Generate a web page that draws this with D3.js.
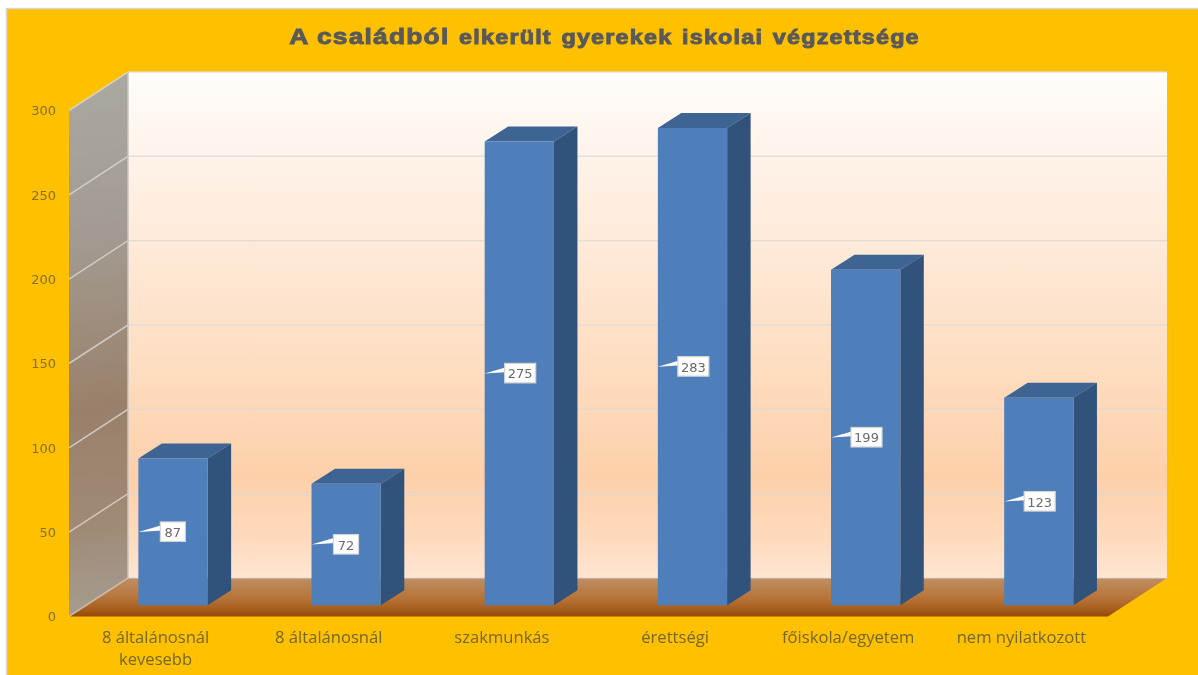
<!DOCTYPE html>
<html><head><meta charset="utf-8">
<script src="https://cdn.jsdelivr.net/npm/d3@7"></script>
<style>html,body{margin:0;padding:0;background:#fff}svg{display:block;filter:blur(0.35px)}</style>
</head><body><svg id="c" width="1198" height="675"></svg>
<script>
const categories = [["8 általánosnál","kevesebb"],["8 általánosnál"],["szakmunkás"],["érettségi"],["főiskola/egyetem"],["nem nyilatkozott"]];
const values = [87,72,275,283,199,123];
const yTicks = [0,50,100,150,200,250,300];

const svg = d3.select("#c");
const W = 1198, H = 675;
const x0 = 69, x1 = 1108, yBase = 616.5, yTop = 110.5;
const dx = 59, dy = -38.5;          // wall depth
const bdx = 23.5, bdy = -15;        // bar depth
const fdx = 17.4, fdy = -11.2;      // bar offset from the front edge of the floor
const x = d3.scaleBand().domain(d3.range(values.length)).range([x0,x1]).paddingInner(0.6).paddingOuter(0.3);
const band = d3.scaleBand().domain(d3.range(values.length)).range([x0,x1]);
const y = d3.scaleLinear().domain([0,300]).range([yBase,yTop]);
const hUnit = (yBase-yTop)/300;

const defs = svg.append("defs");
function grad(id,x1_,y1_,x2_,y2_,stops){
  const g = defs.append("linearGradient").attr("id",id).attr("gradientUnits","userSpaceOnUse")
    .attr("x1",x1_).attr("y1",y1_).attr("x2",x2_).attr("y2",y2_);
  stops.forEach(s=>g.append("stop").attr("offset",s[0]).attr("stop-color",s[1]));
}
grad("back",0,72,0,578,[[0,"#fffdfa"],[0.2,"#fef1e6"],[0.55,"#fedfc4"],[0.8,"#fdd0aa"],[0.92,"#fedabd"],[1,"#ffe5d2"]]);
grad("floor",0,578,0,616.5,[[0,"#bd8f64"],[0.5,"#b8753a"],[0.8,"#a85f1e"],[1,"#974705"]]);
grad("side",69,90,128,600,[[0,"#aaa7a1"],[0.3,"#a29a90"],[0.62,"#9a806a"],[0.85,"#a08a76"],[1,"#a59a8e"]]);

svg.append("rect").attr("x",6.5).attr("y",8.5).attr("width",W).attr("height",H)
  .attr("fill","#ffc000").attr("stroke","#d6d6d6").attr("stroke-width",1.5);

const poly = pts => pts.map(p=>p.join(",")).join(" ");
svg.append("polygon").attr("points",poly([[x0+dx,yTop+dy],[x1+dx,yTop+dy],[x1+dx,yBase+dy],[x0+dx,yBase+dy]])).attr("fill","url(#back)");
svg.append("polygon").attr("points",poly([[x0,yTop],[x0+dx,yTop+dy],[x0+dx,yBase+dy],[x0,yBase]])).attr("fill","url(#side)");
svg.append("polygon").attr("points",poly([[x0,yBase],[x0+dx,yBase+dy],[x1+dx,yBase+dy],[x1,yBase]])).attr("fill","url(#floor)");

// grid
const grid = svg.append("g").attr("fill","none").attr("stroke","#dcd9d4").attr("stroke-width",1.5);
yTicks.forEach(t=>{
  const yy = y(t);
  grid.append("polyline").attr("points",poly([[x0,yy],[x0+dx,yy+dy],[x1+dx,yy+dy]]))
    .attr("stroke-opacity",t===0?0.6:0.8);
});
grid.append("line").attr("x1",x0+dx).attr("x2",x0+dx).attr("y1",yTop+dy).attr("y2",yBase+dy).attr("stroke","#c9c6c0");

// bars
const bars = svg.append("g").selectAll("g").data(values).join("g");
const bl = (d,i)=>x(i)+fdx, br = (d,i)=>x(i)+x.bandwidth()+fdx, by0 = yBase+fdy, bTop = d=>by0-d*hUnit;
bars.append("polygon").attr("fill","#3d6492").attr("points",(d,i)=>poly([[bl(d,i),bTop(d)],[bl(d,i)+bdx,bTop(d)+bdy],[br(d,i)+bdx,bTop(d)+bdy],[br(d,i),bTop(d)]]));
bars.append("polygon").attr("fill","#31527a").attr("points",(d,i)=>poly([[br(d,i),bTop(d)],[br(d,i)+bdx,bTop(d)+bdy],[br(d,i)+bdx,by0+bdy],[br(d,i),by0]]));
bars.append("rect").attr("fill","#4e7fbb").attr("x",bl).attr("y",bTop).attr("width",x.bandwidth()).attr("height",d=>d*hUnit);

// callout labels
const lab = svg.append("g").selectAll("g").data(values).join("g")
  .attr("transform",(d,i)=>`translate(${bl(d,i)},${by0-d*hUnit/2})`);
lab.append("polygon").attr("fill","#fff").attr("points","0,0 24,-7 24,-1.5");
lab.append("rect").attr("x",d=>d>=100?20:22).attr("y",-10).attr("width",d=>d>=100?31:25).attr("height",19.5)
  .attr("fill","#fff").attr("stroke","#d4d4d4").attr("stroke-width",1.2);
lab.append("text").attr("x",d=>d>=100?35.5:34.5).attr("y",5).attr("text-anchor","middle")
  .attr("font-family","'DejaVu Sans',sans-serif").attr("font-size",13).attr("fill","#6a6a6a").text(d=>d);

// y axis
const yAxis = svg.append("g").attr("transform",`translate(${x0},0)`)
  .call(d3.axisLeft(y).tickValues(yTicks).tickSize(0).tickPadding(13));
yAxis.select(".domain").remove();
yAxis.selectAll("text").attr("font-family","'DejaVu Sans',sans-serif").attr("font-size",13).attr("fill","#83702c");

// category labels
const cat = svg.append("g").selectAll("text").data(categories).join("text")
  .attr("text-anchor","middle").attr("font-family","'Open Sans',sans-serif").attr("font-size",16.6).attr("fill","#74672f")
  .attr("y",642.5);
cat.selectAll("tspan").data((d,i)=>d.map(s=>({s,i}))).join("tspan")
  .attr("x",d=>band(d.i)+band.bandwidth()/2).attr("dy",(d,j)=>j?22:0).text(d=>d.s);

// title
const title = svg.append("text").attr("text-anchor","middle").attr("transform","translate(604.5,44) scale(1.2,1)")
  .attr("font-family","'Liberation Sans',Arial,sans-serif").attr("font-weight",700).attr("fill","#595959")
  .attr("stroke","#595959").attr("stroke-width",0.9).attr("letter-spacing",1);
title.append("tspan").attr("font-size",22).text("A családból");
title.append("tspan").attr("font-size",19.5).attr("dx",8).text("elkerült");
title.append("tspan").attr("font-size",19.5).attr("dx",8).text("gyerekek");
title.append("tspan").attr("font-size",19.5).attr("dx",8).text("iskolai");
title.append("tspan").attr("font-size",19.5).attr("dx",8).text("végzettsége");
</script></body></html>
